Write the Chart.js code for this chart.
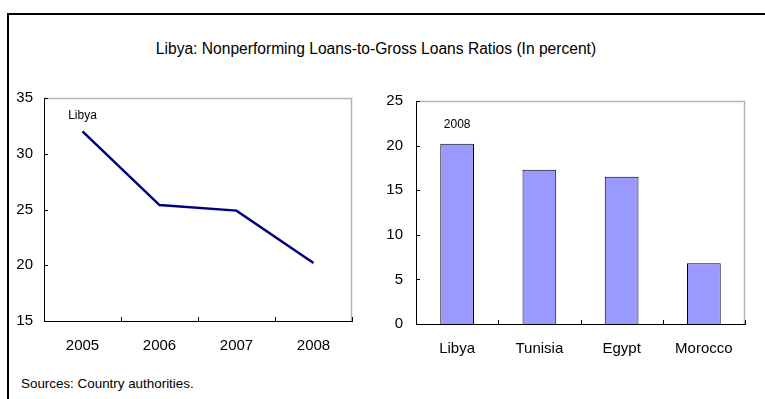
<!DOCTYPE html>
<html>
<head>
<meta charset="utf-8">
<script src="https://cdn.jsdelivr.net/npm/chart.js@4.4.1/dist/chart.umd.min.js"></script>
<style>
  body { margin: 0; background: #fff; font-family: Arial, "Liberation Sans", sans-serif; }
  #wrap { position: relative; width: 765px; height: 399px; overflow: hidden; }
  #frame { position: absolute; left: 7px; top: 13px; width: 770px; height: 400px;
           border-left: 2px solid #000; border-top: 2px solid #000; }
  #title { position: absolute; left: 0; width: 752px; top: 40px; text-align: center; font-size: 15.6px; }
  #src { position: absolute; left: 21px; top: 376px; font-size: 13.4px; }
  #lineBox { position: absolute; left: 8px; top: 78px; width: 352px; height: 283px; }
  #barBox { position: absolute; left: 370px; top: 79px; width: 383px; height: 285px; }
</style>
</head>
<body>
<div id="wrap">
  <div id="frame"></div>
  <div id="title">Libya: Nonperforming Loans-to-Gross Loans Ratios (In percent)</div>
  <div id="lineBox"><canvas id="linePlot"></canvas></div>
  <div id="barBox"><canvas id="barPlot"></canvas></div>
  <div id="src">Sources: Country authorities.</div>
</div>
<script>
// Left panel: Libya over time
const years = ['2005', '2006', '2007', '2008'];
const libyaRatio = [32.0, 25.4, 24.9, 20.2];

// Right panel: 2008 comparison
const countries = ['Libya', 'Tunisia', 'Egypt', 'Morocco'];
const ratio2008 = [20.2, 17.3, 16.5, 6.8];

const font = { family: 'Arial, "Liberation Sans", sans-serif', size: 15 };

// box on top/right in grey, ticks drawn inward, plus a text note
function boxPlugin(note, noteY) {
    return {
        id: 'box',
        afterDraw(chart) {
            const ctx = chart.ctx, a = chart.chartArea;
            const xs = chart.scales.x, ys = chart.scales.y;
            ctx.save();
            ctx.strokeStyle = '#b4b4b4';
            ctx.lineWidth = 1.5;
            ctx.beginPath();
            ctx.moveTo(a.left, a.top + 0.5);
            ctx.lineTo(a.right - 0.5, a.top + 0.5);
            ctx.lineTo(a.right - 0.5, a.bottom);
            ctx.stroke();
            ctx.strokeStyle = '#000';
            ctx.lineWidth = 1;
            ctx.beginPath();
            for (let i = 0; i <= xs.ticks.length; i++) {
                const px = Math.round(xs.left + (xs.right - xs.left) * i / xs.ticks.length) + 0.5;
                ctx.moveTo(px, a.bottom);
                ctx.lineTo(px, a.bottom - 4);
            }
            ys.ticks.forEach(t => {
                const py = Math.round(ys.getPixelForValue(t.value)) + 0.5;
                ctx.moveTo(a.left, py);
                ctx.lineTo(a.left + 4, py);
            });
            ctx.stroke();
            ctx.fillStyle = '#000';
            ctx.font = '12px Arial, "Liberation Sans", sans-serif';
            ctx.textAlign = 'center';
            ctx.textBaseline = 'middle';
            ctx.fillText(note, xs.getPixelForValue(0), ys.getPixelForValue(noteY));
            ctx.restore();
        }
    };
}

function axes(min, max, yWidth, yPad) {
    return {
        x: {
            offset: true,
            grid: { display: false, offset: true, drawTicks: false },
            border: { display: true, color: '#000', width: 1 },
            ticks: { color: '#000', font: font, padding: 16, maxRotation: 0 },
            afterFit: s => { s.height = 40; }
        },
        y: {
            min: min, max: max,
            grid: { display: false, drawTicks: false },
            border: { display: true, color: '#000', width: 1 },
            ticks: { color: '#000', font: font, stepSize: 5, padding: yPad },
            afterFit: s => { s.width = yWidth; }
        }
    };
}

new Chart(document.getElementById('linePlot'), {
    type: 'line',
    data: {
        labels: years,
        datasets: [{
            label: 'Libya',
            data: libyaRatio,
            borderColor: '#000080',
            borderWidth: 2.5,
            pointRadius: 0,
            tension: 0
        }]
    },
    options: {
        responsive: true,
        maintainAspectRatio: false,
        animation: false,
        layout: { padding: { top: 0, right: 8, left: 0, bottom: 0 } },
        plugins: { legend: { display: false }, tooltip: { enabled: false } },
        scales: axes(15, 35, 36, 11)
    },
    plugins: [boxPlugin('Libya', 33.4)]
});

new Chart(document.getElementById('barPlot'), {
    type: 'bar',
    data: {
        labels: countries,
        datasets: [{
            label: '2008',
            data: ratio2008,
            backgroundColor: '#9999ff',
            borderColor: '#000',
            borderWidth: 1,
            categoryPercentage: 1,
            barPercentage: 0.41
        }]
    },
    options: {
        responsive: true,
        maintainAspectRatio: false,
        animation: false,
        layout: { padding: { top: 0, right: 8, left: 0, bottom: 0 } },
        plugins: { legend: { display: false }, tooltip: { enabled: false } },
        scales: axes(0, 25, 46, 13)
    },
    plugins: [boxPlugin('2008', 22.3)]
});
</script>
</body>
</html>
